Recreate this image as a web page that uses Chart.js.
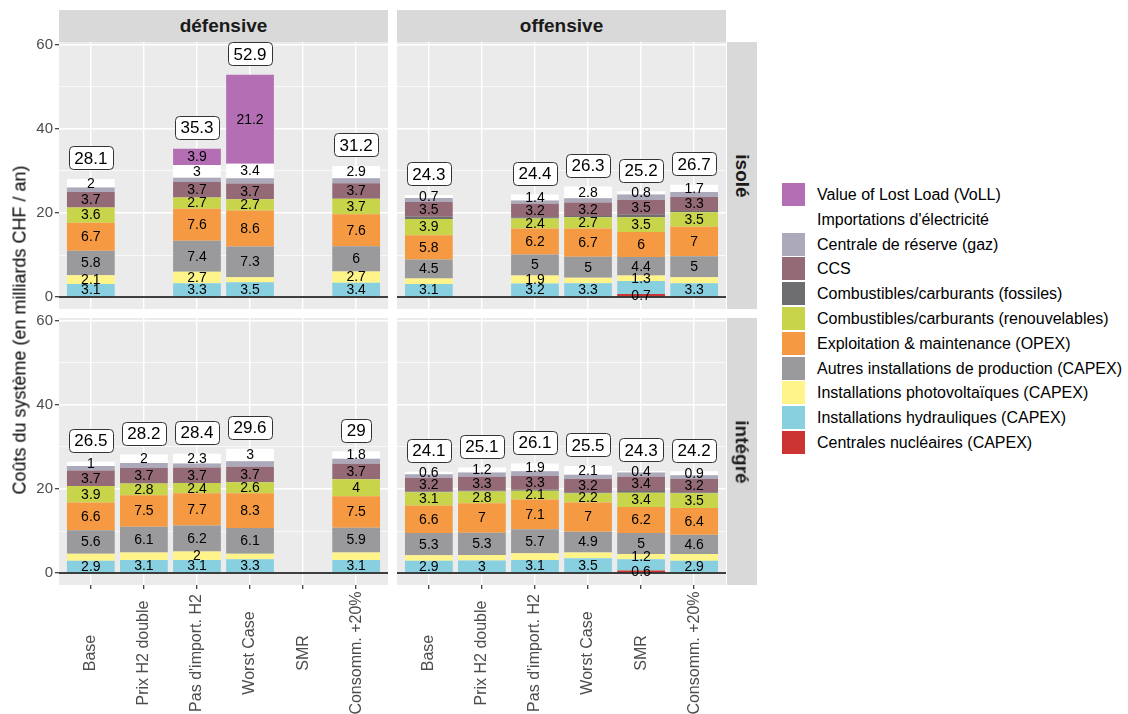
<!DOCTYPE html>
<html lang="fr">
<head>
<meta charset="utf-8">
<title>Coûts du système</title>
<script src="https://cdn.jsdelivr.net/npm/chart.js@4.4.1/dist/chart.umd.min.js"></script>
<style>
  html, body { margin: 0; padding: 0; background: #ffffff; }
  body { position: relative; width: 1128px; height: 714px; overflow: hidden;
         font-family: "Liberation Sans", Arial, Helvetica, sans-serif; }
  canvas { position: absolute; }
  .strip { position: absolute; background: #D9D9D9; color: #1A1A1A; font-weight: bold;
           font-size: 19px; display: flex; align-items: center; justify-content: center; z-index: 2; }
  .strip.row span { display: block; transform: rotate(90deg); white-space: nowrap; }
  #ytitle { position: absolute; left: 20px; top: 330px; transform: translate(-50%, -50%) rotate(-90deg);
            white-space: nowrap; font-size: 18px; color: #000; z-index: 2; }
  .key { position: absolute; left: 782px; width: 23px; height: 23px; }
  .ltext { position: absolute; left: 817px; font-size: 16px; color: #000; white-space: nowrap; line-height: 23px; }
</style>
</head>
<body>
<canvas id="c1"></canvas>
<canvas id="c2"></canvas>
<canvas id="c3"></canvas>
<canvas id="c4"></canvas>

<div class="strip" style="left:59px; top:10px; width:329px; height:32px;">défensive</div>
<div class="strip" style="left:397px; top:10px; width:329px; height:32px;">offensive</div>
<div class="strip row" style="left:727px; top:42px; width:30px; height:267px;"><span>isolé</span></div>
<div class="strip row" style="left:727px; top:318px; width:30px; height:267px;"><span>intégré</span></div>
<div id="ytitle">Coûts du système (en milliards CHF / an)</div>
<div id="legend"></div>

<script>
const FONT = '"Liberation Sans", Arial, Helvetica, sans-serif';
Chart.defaults.font.family = FONT;

// Scenarios on the x axis
const scenarios = ['Base', 'Prix H2 double', "Pas d'import. H2", 'Worst Case', 'SMR', 'Consomm. +20%'];

// Cost components, stacked from bottom to top
const componentKeys = ['nuc', 'hydro', 'pv', 'autres', 'opex', 'renouv', 'fossil', 'ccs', 'reserve', 'imports', 'voll'];
const componentNames = [
  'Centrales nucléaires (CAPEX)',
  'Installations hydrauliques (CAPEX)',
  'Installations photovoltaïques (CAPEX)',
  'Autres installations de production (CAPEX)',
  'Exploitation & maintenance (OPEX)',
  'Combustibles/carburants (renouvelables)',
  'Combustibles/carburants (fossiles)',
  'CCS',
  'Centrale de réserve (gaz)',
  "Importations d'électricité",
  'Value of Lost Load (VoLL)'
];
const componentColors = ['#CC3333', '#88D0E0', '#FFF48A', '#9A9A9C', '#F59A42', '#C8D54B',
                         '#6E6E70', '#936A76', '#ABA9BA', '#FFFFFF', '#B46EB4'];
const unlabeledComponents = ['fossil', 'reserve'];

// y axis: grid values and the subset carrying labels
const yGridValues = [0, 10, 20, 30, 40, 50, 60];
const yLabelValues = [0, 20, 40, 60];

// Costs in billions CHF per year; rows follow componentKeys, columns follow scenarios
// défensive – isolé
const defIso = [
  [0,   null, 0,   0,    null, 0  ],
  [3.1, null, 3.3, 3.5,  null, 3.4],
  [2.1, null, 2.7, 1.2,  null, 2.7],
  [5.8, null, 7.4, 7.3,  null, 6  ],
  [6.7, null, 7.6, 8.6,  null, 7.6],
  [3.6, null, 2.7, 2.7,  null, 3.7],
  [0,   null, 0,   0,    null, 0  ],
  [3.7, null, 3.7, 3.7,  null, 3.7],
  [1.1, null, 1.0, 1.3,  null, 1.2],
  [2,   null, 3,   3.4,  null, 2.9],
  [0,   null, 3.9, 21.2, null, 0  ]
];
// offensive – isolé
const offIso = [
  [0,   null, 0,   0,   0.7, 0  ],
  [3.1, null, 3.2, 3.3, 3.1, 3.3],
  [1.3, null, 1.9, 1.3, 1.3, 1.4],
  [4.5, null, 5,   5,   4.4, 5  ],
  [5.8, null, 6.2, 6.7, 6,   7  ],
  [3.9, null, 2.4, 2.7, 3.5, 3.5],
  [0.5, null, 0.3, 0.3, 0.6, 0.3],
  [3.5, null, 3.2, 3.2, 3.5, 3.3],
  [1.0, null, 0.8, 1.0, 1.3, 1.2],
  [0.7, null, 1.4, 2.8, 0.8, 1.7],
  [0,   null, 0,   0,   0,   0  ]
];
// défensive – intégré
const defInt = [
  [0,   0,   0,   0,   null, 0  ],
  [2.9, 3.1, 3.1, 3.3, null, 3.1],
  [1.7, 1.8, 2,   1.3, null, 1.8],
  [5.6, 6.1, 6.2, 6.1, null, 5.9],
  [6.6, 7.5, 7.7, 8.3, null, 7.5],
  [3.9, 2.8, 2.4, 2.6, null, 4  ],
  [0,   0,   0,   0,   null, 0  ],
  [3.7, 3.7, 3.7, 3.7, null, 3.7],
  [1.1, 1.2, 1.0, 1.3, null, 1.2],
  [1,   2,   2.3, 3,   null, 1.8],
  [0,   0,   0,   0,   null, 0  ]
];
// offensive – intégré
const offInt = [
  [0,   0,   0,   0,   0.6, 0  ],
  [2.9, 3,   3.1, 3.5, 2.7, 2.9],
  [1.3, 1.3, 1.6, 1.4, 1.2, 1.6],
  [5.3, 5.3, 5.7, 4.9, 5,   4.6],
  [6.6, 7,   7.1, 7,   6.2, 6.4],
  [3.1, 2.8, 2.1, 2.2, 3.4, 3.5],
  [0.2, 0.2, 0.2, 0.2, 0.4, 0.2],
  [3.2, 3.3, 3.3, 3.2, 3.4, 3.2],
  [0.9, 1.0, 1.1, 1.0, 1.0, 0.9],
  [0.6, 1.2, 1.9, 2.1, 0.4, 0.9],
  [0,   0,   0,   0,   0,   0  ]
];

// Segment values left without a text label (they would collide with a neighbour)
const defIsoNoLabel = ['Worst Case|pv'];
const offIsoNoLabel = ['Base|pv', 'Worst Case|pv', 'SMR|hydro', 'Consomm. +20%|pv'];
const defIntNoLabel = ['Base|pv', 'Prix H2 double|pv', 'Worst Case|pv', 'Consomm. +20%|pv'];
const offIntNoLabel = ['Base|pv', 'Prix H2 double|pv', "Pas d'import. H2|pv", 'Worst Case|pv', 'SMR|hydro', 'Consomm. +20%|pv'];

// ---- layout of the four facets ----
const Y_MIN = -2.857, Y_MAX = 60.714;
const X_MIN = -0.6, X_MAX = 5.6;
const X_LABEL_CENTER = 341;   // vertical centre of the rotated scenario names (bottom canvases)

const panels = [
  { id: 'c1', rows: defIso, noLabel: defIsoNoLabel, left: 0,   top: 0,   w: 392, h: 312,
    pad: { left: 0, top: 42, right: 4, bottom: 3 }, yAxis: true,  xAxis: false },
  { id: 'c2', rows: offIso, noLabel: offIsoNoLabel, left: 392, top: 0,   w: 340, h: 312,
    pad: { left: 5, top: 42, right: 6, bottom: 3 }, yAxis: false, xAxis: false },
  { id: 'c3', rows: defInt, noLabel: defIntNoLabel, left: 0,   top: 312, w: 392, h: 402,
    pad: { left: 0, top: 6, right: 4, bottom: 0 },  yAxis: true,  xAxis: true },
  { id: 'c4', rows: offInt, noLabel: offIntNoLabel, left: 392, top: 312, w: 340, h: 402,
    pad: { left: 5, top: 6, right: 6, bottom: 0 },  yAxis: false, xAxis: true }
];

const panelBackground = {
  id: 'panelBackground',
  beforeDraw(chart) {
    const { ctx, chartArea: a } = chart;
    ctx.save();
    ctx.fillStyle = '#EBEBEB';
    ctx.fillRect(a.left, a.top, a.right - a.left, a.bottom - a.top);
    ctx.restore();
  }
};

function roundedBox(ctx, x, y, w, h, r) {
  ctx.beginPath();
  ctx.moveTo(x + r, y);
  ctx.lineTo(x + w - r, y);
  ctx.arcTo(x + w, y, x + w, y + r, r);
  ctx.lineTo(x + w, y + h - r);
  ctx.arcTo(x + w, y + h, x + w - r, y + h, r);
  ctx.lineTo(x + r, y + h);
  ctx.arcTo(x, y + h, x, y + h - r, r);
  ctx.lineTo(x, y + r);
  ctx.arcTo(x, y, x + r, y, r);
  ctx.closePath();
}

function makeAnnotations(panel) {
  return {
    id: 'annotations',
    afterDatasetsDraw(chart) {
      const { ctx, chartArea: a, scales: { x, y } } = chart;
      ctx.save();

      // zero line
      const y0 = y.getPixelForValue(0);
      ctx.strokeStyle = '#000000';
      ctx.lineWidth = 1.3;
      ctx.beginPath();
      ctx.moveTo(a.left, y0);
      ctx.lineTo(a.right, y0);
      ctx.stroke();

      // value of each segment, centred in it
      ctx.font = '14px ' + FONT;
      ctx.fillStyle = '#000000';
      ctx.textAlign = 'center';
      ctx.textBaseline = 'middle';
      chart.data.datasets.forEach((ds, s) => {
        const key = componentKeys[s];
        if (unlabeledComponents.includes(key)) return;
        const meta = chart.getDatasetMeta(s);
        meta.data.forEach((bar, i) => {
          const v = ds.data[i].y;
          if (v === null || v === 0) return;
          if (panel.noLabel.includes(scenarios[i] + '|' + key)) return;
          ctx.fillText(String(v), bar.x, (bar.y + bar.base) / 2 + 0.5);
        });
      });

      // stack totals in boxes, 5 units above each bar
      ctx.font = '17px ' + FONT;
      scenarios.forEach((_, i) => {
        let sum = 0, any = false;
        chart.data.datasets.forEach(ds => {
          const v = ds.data[i].y;
          if (v !== null) { sum += v; any = true; }
        });
        if (!any) return;
        const total = Math.round(sum * 10) / 10;
        const txt = String(total);
        const cx = x.getPixelForValue(i);
        const cy = y.getPixelForValue(total + 5);
        const w = Math.round(ctx.measureText(txt).width + 11);
        const h = 23;
        const bx = Math.round(cx - w / 2) + 0.5;
        const by = Math.round(cy - h / 2) + 0.5;
        roundedBox(ctx, bx, by, w, h, 4);
        ctx.fillStyle = '#FFFFFF';
        ctx.fill();
        ctx.strokeStyle = '#333333';
        ctx.lineWidth = 1;
        ctx.stroke();
        ctx.fillStyle = '#000000';
        ctx.fillText(txt, cx, cy + 1);
      });
      ctx.restore();
    },
    afterDraw(chart) {
      if (!panel.xAxis) return;
      const { ctx, scales: { x } } = chart;
      ctx.save();
      ctx.font = '16px ' + FONT;
      ctx.fillStyle = '#4D4D4D';
      ctx.textAlign = 'center';
      ctx.textBaseline = 'middle';
      scenarios.forEach((name, i) => {
        ctx.save();
        ctx.translate(x.getPixelForValue(i), X_LABEL_CENTER);
        ctx.rotate(-Math.PI / 2);
        ctx.fillText(name, 0, 0);
        ctx.restore();
      });
      ctx.restore();
    }
  };
}

panels.forEach(panel => {
  const canvas = document.getElementById(panel.id);
  canvas.width = panel.w;
  canvas.height = panel.h;
  canvas.style.left = panel.left + 'px';
  canvas.style.top = panel.top + 'px';
  canvas.style.width = panel.w + 'px';
  canvas.style.height = panel.h + 'px';

  const datasets = panel.rows.map((vals, s) => ({
    label: componentNames[s],
    data: vals.map((v, i) => ({ x: i, y: v })),
    backgroundColor: componentColors[s],
    borderWidth: 0,
    barPercentage: 0.9,
    categoryPercentage: 1
  }));

  new Chart(canvas, {
    type: 'bar',
    data: { datasets },
    options: {
      responsive: false,
      animation: false,
      devicePixelRatio: 1,
      layout: { padding: panel.pad },
      plugins: { legend: { display: false }, tooltip: { enabled: false } },
      scales: {
        x: {
          type: 'linear',
          stacked: true,
          min: X_MIN,
          max: X_MAX,
          offset: false,
          afterBuildTicks: s => { s.ticks = scenarios.map((_, i) => ({ value: i })); },
          grid: {
            offset: false,
            color: '#FFFFFF',
            lineWidth: 1.4,
            drawTicks: panel.xAxis,
            tickLength: 4,
            tickColor: '#333333',
            tickWidth: 1.2
          },
          border: { display: false },
          ticks: { display: false, autoSkip: false },
          afterFit: s => {
            s.height = panel.xAxis ? 129 : 0;
            s.paddingLeft = 0;
            s.paddingRight = 0;
          }
        },
        y: {
          type: 'linear',
          stacked: true,
          min: Y_MIN,
          max: Y_MAX,
          afterBuildTicks: s => { s.ticks = yGridValues.map(v => ({ value: v })); },
          grid: {
            color: '#FFFFFF',
            lineWidth: c => (c.tick && yLabelValues.includes(c.tick.value)) ? 1.4 : 0.7,
            drawTicks: panel.yAxis,
            tickLength: 4,
            tickWidth: 1.2,
            tickColor: c => (c.tick && yLabelValues.includes(c.tick.value)) ? '#333333' : 'rgba(0,0,0,0)'
          },
          border: { display: false },
          ticks: {
            display: panel.yAxis,
            autoSkip: false,
            color: '#4D4D4D',
            font: { size: 15 },
            padding: 2,
            callback: v => yLabelValues.includes(v) ? String(v) : ''
          },
          afterFit: s => {
            s.width = panel.yAxis ? 59 : 0;
            s.paddingTop = 0;
            s.paddingBottom = 0;
          }
        }
      }
    },
    plugins: [panelBackground, makeAnnotations(panel)]
  });
});

// legend, top entry = top of the stack
const legend = document.getElementById('legend');
const LEGEND_TOP = 183, LEGEND_STEP = 24.8;
componentNames.slice().reverse().forEach((name, k) => {
  const s = componentNames.length - 1 - k;
  const key = document.createElement('div');
  key.className = 'key';
  key.style.top = (LEGEND_TOP + k * LEGEND_STEP) + 'px';
  key.style.background = componentColors[s];
  legend.appendChild(key);
  const t = document.createElement('div');
  t.className = 'ltext';
  t.style.top = (LEGEND_TOP + k * LEGEND_STEP) + 'px';
  t.textContent = name;
  legend.appendChild(t);
});
</script>
</body>
</html>
